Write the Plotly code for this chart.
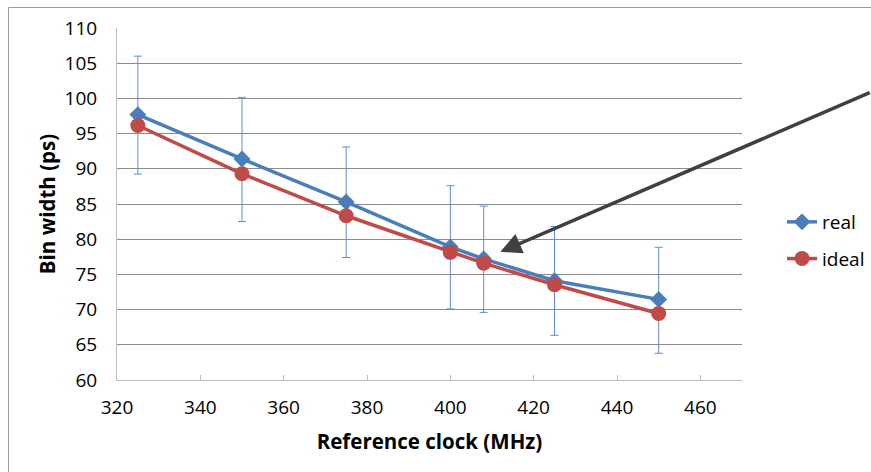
import plotly.graph_objects as go

clock_mhz = [325, 350, 375, 400, 408, 425, 450]
real_ps = [97.7, 91.4, 85.3, 78.9, 77.2, 74.1, 71.45]
real_err_plus = [8.3, 8.75, 7.8, 8.7, 7.5, 7.7, 7.4]
real_err_minus = [8.45, 8.9, 7.9, 8.8, 7.6, 7.75, 7.65]
ideal_ps = [96.15, 89.29, 83.33, 78.13, 76.59, 73.53, 69.44]

x_ticks = [320, 340, 360, 380, 400, 420, 440, 460]
y_ticks = [60, 65, 70, 75, 80, 85, 90, 95, 100, 105, 110]

BLUE = "#4a7ebb"
RED = "#be4b48"
FONT = "Open Sans"

W, H = 871, 472
L, T = 117, 28
PW, PH = 625, 352
R = W - L - PW
B = H - T - PH

fig = go.Figure()
fig.add_trace(go.Scatter(
    x=clock_mhz, y=real_ps, name="real", mode="lines+markers",
    legendgroup="a",
    line=dict(color=BLUE, width=3.5),
    marker=dict(symbol="diamond", size=13, color=BLUE),
    error_y=dict(type="data", symmetric=False, array=real_err_plus,
                 arrayminus=real_err_minus, color="#5d8fd0", thickness=1, width=4),
))
fig.add_trace(go.Scatter(
    x=clock_mhz, y=ideal_ps, name="ideal", mode="lines+markers",
    legendgroup="b",
    line=dict(color=RED, width=3.5),
    marker=dict(symbol="circle", size=15, color=RED),
))

bx0 = (8.5 - L) / PW
by1 = 1 + (T - 7.5) / PH

fig.update_layout(
    width=W, height=H,
    margin=dict(l=L, r=R, t=T, b=B),
    paper_bgcolor="white", plot_bgcolor="white",
    font=dict(family=FONT, size=19, color="#000000"),
    showlegend=True,
    legend=dict(x=782 / W, y=1 - 203 / H, xref="container", yref="container",
                xanchor="left", yanchor="top",
                font=dict(family=FONT, size=19, color="#000000"),
                traceorder="grouped", tracegroupgap=9,
                bgcolor="rgba(0,0,0,0)"),
    xaxis=dict(range=[320, 470], tickvals=x_ticks, ticktext=[str(v) for v in x_ticks],
               showgrid=False, showline=True, linecolor="#bfbfbf", linewidth=1,
               ticks="inside", ticklen=5, tickcolor="#bfbfbf", zeroline=False,
               ticklabelstandoff=10, tickfont=dict(size=19),
               title=dict(text="<b>Reference clock (MHz)</b>", standoff=15,
                          font=dict(family=FONT, size=20.5, color="#000000"))),
    yaxis=dict(range=[60, 110], tickvals=y_ticks, ticktext=[str(v) for v in y_ticks],
               showgrid=True, gridcolor="#8c8c8c", gridwidth=1,
               showline=True, linecolor="#bfbfbf", linewidth=1,
               ticks="", zeroline=False, ticklabelstandoff=15, tickfont=dict(size=19),
               title=dict(text="<b>Bin width (ps)</b>", standoff=3,
                          font=dict(family=FONT, size=20.5, color="#000000"))),
    shapes=[dict(type="path", xref="paper", yref="paper",
                 path=f"M {bx0},-1 L {bx0},{by1} L 2,{by1}",
                 line=dict(color="#9a9a9a", width=1), layer="below")],
    annotations=[dict(x=412, y=78.2, xref="x", yref="y",
                      ax=501, ay=100.9, axref="x", ayref="y",
                      showarrow=True, arrowhead=2, arrowsize=1.2, arrowwidth=3.5,
                      arrowcolor="#404040", text="")],
)

fig.write_html(
    "out.html",
    config={"displayModeBar": False},
    post_script="document.documentElement.style.overflow='hidden';"
                "document.body.style.overflow='hidden';"
                "document.body.style.margin='0';",
)
